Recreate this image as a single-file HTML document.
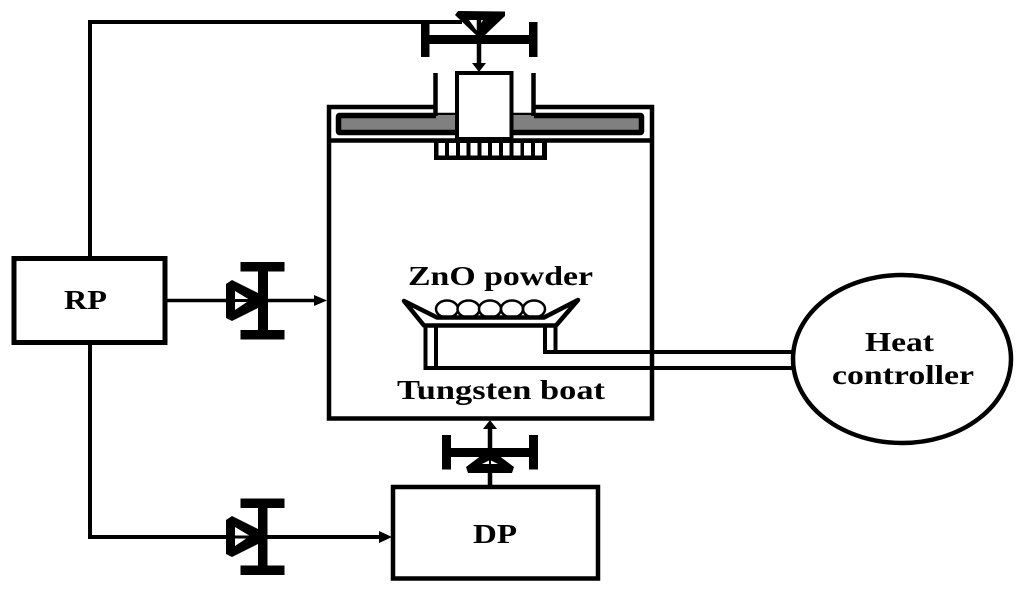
<!DOCTYPE html>
<html>
<head>
<meta charset="utf-8">
<style>
html,body{margin:0;padding:0;background:#fff;width:1024px;height:594px;overflow:hidden}
svg{display:block}
text{font-family:"Liberation Serif",serif;font-weight:bold;font-size:27px;fill:#000}
</style>
</head>
<body>
<svg width="1024" height="594" viewBox="0 0 1024 594" xmlns="http://www.w3.org/2000/svg">
<rect width="1024" height="594" fill="#fff"/>

<!-- Pump lines -->
<path d="M90 257V22H462" fill="none" stroke="#000" stroke-width="4"/>
<path d="M90 345V537H382" fill="none" stroke="#000" stroke-width="4"/>
<path d="M167 300.5H316" fill="none" stroke="#000" stroke-width="3.5"/>

<!-- Chamber -->
<path d="M435 107H329V418.500H652V107H534" fill="none" stroke="#000" stroke-width="4.500"/>
<path d="M327 140.500H654" stroke="#000" stroke-width="4.500"/>

<!-- Inner plate -->
<rect x="338.500" y="115.500" width="303" height="17" fill="#808080" stroke="#000" stroke-width="5.500" rx="1"/>
<rect x="436" y="115" width="22" height="4" fill="#808080"/>
<rect x="511" y="115" width="23" height="4" fill="#808080"/>

<!-- Teeth -->
<rect x="434" y="142" width="113" height="18" fill="#000"/>
<g fill="#fff">
<rect x="438.500" y="143" width="6.500" height="12.500"/>
<rect x="449" y="143" width="7" height="12.500"/>
<rect x="460" y="143" width="6.500" height="12.500"/>
<rect x="470.500" y="143" width="7" height="12.500"/>
<rect x="481.500" y="143" width="6.500" height="12.500"/>
<rect x="492" y="143" width="7" height="12.500"/>
<rect x="503" y="143" width="6.500" height="12.500"/>
<rect x="513.500" y="143" width="7" height="12.500"/>
<rect x="524" y="143" width="7" height="12.500"/>
<rect x="535" y="143" width="7" height="12.500"/>
</g>

<!-- Top pipes and centre column -->
<rect x="457" y="73" width="54.500" height="66" fill="#fff" stroke="#000" stroke-width="4"/>
<path d="M435.500 73V116M533.500 73V116" fill="none" stroke="#000" stroke-width="4.500"/>

<!-- Top valve -->
<rect x="421" y="22" width="8.500" height="35" fill="#000"/>
<rect x="529" y="22" width="8.500" height="35" fill="#000"/>
<rect x="421" y="35" width="116" height="9" fill="#000"/>
<polygon points="455,15 458,11 505,11.500 505,16 485,35 477,36" fill="#000"/>
<polygon points="469,20 483,20 477,31" fill="#fff"/>
<path d="M479 20V66" stroke="#000" stroke-width="4.500"/>
<polygon points="472,63 486,63 479,72" fill="#000"/>

<!-- Left valve -->
<rect x="240.500" y="262" width="44" height="9.500" fill="#000"/>
<rect x="240.500" y="330" width="44" height="9.500" fill="#000"/>
<rect x="258" y="262" width="10" height="77" fill="#000"/>
<polygon points="226,284 232,280 262,295 262,306 232,321 226,318" fill="#000"/>
<polygon points="235,291 250,300 235,310" fill="#fff"/>
<path d="M232 300.500H262" stroke="#000" stroke-width="3"/>
<polygon points="314,295 327,300.500 314,306" fill="#000"/>

<!-- Lower-left valve -->
<rect x="240.500" y="498.500" width="44" height="9.500" fill="#000"/>
<rect x="240.500" y="565.500" width="44" height="9.500" fill="#000"/>
<rect x="258" y="498.500" width="9.500" height="76" fill="#000"/>
<polygon points="226,520 232,516 262,531 262,542 232,557 226,554" fill="#000"/>
<polygon points="235,527 250,536 235,546" fill="#fff"/>
<path d="M232 537H262" stroke="#000" stroke-width="3"/>
<polygon points="379,531 392,537 379,543" fill="#000"/>

<!-- Bottom valve -->
<rect x="442" y="435" width="9" height="34.500" fill="#000"/>
<rect x="529" y="435" width="9" height="34.500" fill="#000"/>
<rect x="442" y="448" width="96" height="9" fill="#000"/>
<path d="M490 485V428" stroke="#000" stroke-width="4.500"/>
<polygon points="483,429 497,429 490,420" fill="#000"/>
<polygon points="466,467 486,452 494,452 514,467 512,473 468,473" fill="#000"/>
<polygon points="482,464 490,460 498,464" fill="#fff"/>
<path d="M490 458V466" stroke="#000" stroke-width="2"/>

<!-- Boxes -->
<rect x="14" y="258.500" width="151" height="84" fill="#fff" stroke="#000" stroke-width="5"/>
<rect x="393" y="487" width="205" height="91.500" fill="#fff" stroke="#000" stroke-width="4.500"/>

<!-- Boat -->
<ellipse cx="447" cy="309" rx="11" ry="8.500" fill="#fff" stroke="#000" stroke-width="2.500"/>
<ellipse cx="468.500" cy="309" rx="11" ry="8.500" fill="#fff" stroke="#000" stroke-width="2.500"/>
<ellipse cx="490" cy="309" rx="11" ry="8.500" fill="#fff" stroke="#000" stroke-width="2.500"/>
<ellipse cx="512" cy="309" rx="11" ry="8.500" fill="#fff" stroke="#000" stroke-width="2.500"/>
<ellipse cx="534" cy="309" rx="11" ry="8.500" fill="#fff" stroke="#000" stroke-width="2.500"/>
<path d="M404 301L437 317.500H544L578 300L556 325.500H424Z" fill="none" stroke="#000" stroke-width="4.500" stroke-linejoin="round"/>
<path d="M425.500 325V368H795" fill="none" stroke="#000" stroke-width="4"/>
<path d="M436 325V367" fill="none" stroke="#000" stroke-width="4"/>
<path d="M545 325V352H795" fill="none" stroke="#000" stroke-width="4"/>
<path d="M555.500 325V351" fill="none" stroke="#000" stroke-width="4"/>

<!-- Heat controller -->
<ellipse cx="902" cy="359" rx="109" ry="84" fill="#fff" stroke="#000" stroke-width="4.500"/>

<!-- Labels -->
<text x="64" y="309" textLength="43" lengthAdjust="spacingAndGlyphs">RP</text>
<text x="473" y="543" textLength="44" lengthAdjust="spacingAndGlyphs">DP</text>
<text x="408" y="285" textLength="185" lengthAdjust="spacingAndGlyphs">ZnO powder</text>
<text x="397" y="399" textLength="208" lengthAdjust="spacingAndGlyphs">Tungsten boat</text>
<text x="865" y="351" textLength="69" lengthAdjust="spacingAndGlyphs">Heat</text>
<text x="832" y="384" textLength="142" lengthAdjust="spacingAndGlyphs">controller</text>
</svg>
</body>
</html>
